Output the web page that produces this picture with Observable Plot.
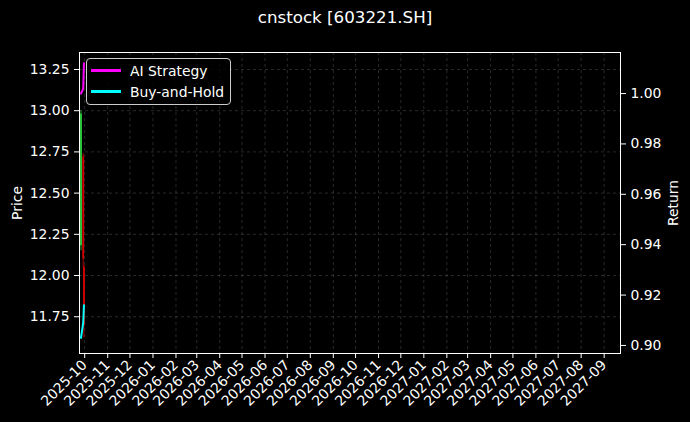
<!DOCTYPE html>
<html><head><meta charset="utf-8">
<script src="https://cdn.jsdelivr.net/npm/d3@7"></script>
<script src="https://cdn.jsdelivr.net/npm/@observablehq/plot@0.6"></script>
<style>
body{margin:0;background:#000;}
#wrap{position:relative;width:690px;height:422px;background:#000;font-family:"DejaVu Sans",sans-serif;overflow:hidden}
#wrap svg{position:absolute;left:0;top:0}
#title{position:absolute;left:0;width:690px;top:7px;text-align:center;color:#fff;font-size:16.7px}
.ylab{position:absolute;color:#fff;font-size:13.9px;transform:translate(-50%,-50%) rotate(-90deg);white-space:nowrap}
#legend{position:absolute;left:86px;top:58px;width:143px;height:45px;border:1px solid #ccc;border-radius:4px;background:rgba(0,0,0,0.8);color:#fff;font-size:13.9px;z-index:5}
.li{position:absolute;left:4px;height:17px;display:flex;align-items:center}
.sw{width:30px;height:2.5px;margin-right:9px}
</style></head>
<body>
<div id="wrap">
  <div id="title">cnstock [603221.SH]</div>
  <div class="ylab" style="left:17px;top:203px">Price</div>
  <div class="ylab" style="left:673px;top:203px">Return</div>
  <div id="legend"></div>
</div>
<script>
// ---- data ----
const dates = ["2025-09-26", "2025-09-29", "2025-09-30"];
const opens = [12.18, 12.72, 12.05];
const highs = [13.00, 12.74, 12.06];
const lows = [12.15, 12.05, 11.62];
const closes = [12.98, 12.10, 11.70];
const aiStrategy = [1.000, 1.002, 1.012];
const buyHold = [0.903, 0.909, 0.916];
const priceTicks = [11.75, 12.00, 12.25, 12.50, 12.75, 13.00, 13.25];
const returnTicks = [0.90, 0.92, 0.94, 0.96, 0.98, 1.00];
const monthLabels = ["2025-10","2025-11","2025-12","2026-01","2026-02","2026-03","2026-04","2026-05","2026-06","2026-07","2026-08","2026-09","2026-10","2026-11","2026-12","2027-01","2027-02","2027-03","2027-04","2027-05","2027-06","2027-07","2027-08","2027-09"];
const xDomainStr = ["2025-09-24", "2027-09-23"];
const priceDomain = [11.527, 13.353];
const returnDomain = [0.8968, 1.0163];
const seriesNames = ["AI Strategy", "Buy-and-Hold"];
const seriesColors = ["#ff00ff", "#00ffff"];

// ---- build ----
const parse = d3.utcParse("%Y-%m-%d");
const monthTicks = monthLabels.map(m => parse(m + "-01"));
const xDomain = xDomainStr.map(parse);
const candles = dates.map((d, i) => ({date: parse(d), open: opens[i], high: highs[i], low: lows[i], close: closes[i]}));
const lines = [];
dates.forEach((d, i) => lines.push({date: parse(d), value: aiStrategy[i], series: seriesNames[0]}));
dates.forEach((d, i) => lines.push({date: parse(d), value: buyHold[i], series: seriesNames[1]}));

const fs = 13.9;
const common = {
  width: 690, height: 422, marginTop: 52, marginBottom: 69, marginLeft: 79, marginRight: 70,
  style: {background: "transparent", color: "white", fontFamily: "DejaVu Sans", fontSize: fs + "px"}
};
const gridStyle = {stroke: "#aaa", strokeOpacity: 0.35, strokeDasharray: "3,3", strokeWidth: 0.7};
const candleColor = d => d.close >= d.open ? "#2ecc40" : "#d40000";

const p1 = Plot.plot({
  ...common,
  x: {type: "utc", domain: xDomain},
  y: {domain: priceDomain},
  marks: [
    Plot.gridX(monthTicks, gridStyle),
    Plot.gridY(priceTicks, gridStyle),
    Plot.axisX(monthTicks, {tickFormat: d3.utcFormat("%Y-%m"), tickRotate: -45, tickSize: 5, tickPadding: 4, stroke: "white", fill: "white", fontSize: fs, label: null}),
    Plot.axisY(priceTicks, {anchor: "left", tickFormat: ".2f", tickSize: 5, tickPadding: 5, stroke: "white", fill: "white", fontSize: fs, label: null}),
    Plot.ruleX(candles, {x: "date", y1: "low", y2: "high", stroke: candleColor, strokeWidth: 0.8}),
    Plot.ruleX(candles, {x: "date", y1: "open", y2: "close", stroke: candleColor, strokeWidth: 1.8}),
    Plot.frame({stroke: "white", strokeWidth: 1})
  ]
});

const p2 = Plot.plot({
  ...common,
  x: {type: "utc", domain: xDomain, axis: null},
  y: {domain: returnDomain},
  marks: [
    Plot.axisY(returnTicks, {anchor: "right", tickFormat: ".2f", tickSize: 5, tickPadding: 5, stroke: "white", fill: "white", fontSize: fs, label: null}),
    Plot.line(lines, {x: "date", y: "value", z: "series", stroke: d => seriesColors[seriesNames.indexOf(d.series)], strokeWidth: 2})
  ]
});

const wrap = document.getElementById("wrap");
wrap.appendChild(p1);
wrap.appendChild(p2);

const leg = document.getElementById("legend");
seriesNames.forEach((n, i) => {
  const row = document.createElement("div");
  row.className = "li";
  row.style.top = (3 + i * 21) + "px";
  row.innerHTML = `<span class="sw" style="background:${seriesColors[i]}"></span><span>${n}</span>`;
  leg.appendChild(row);
});
</script>
</body></html>
